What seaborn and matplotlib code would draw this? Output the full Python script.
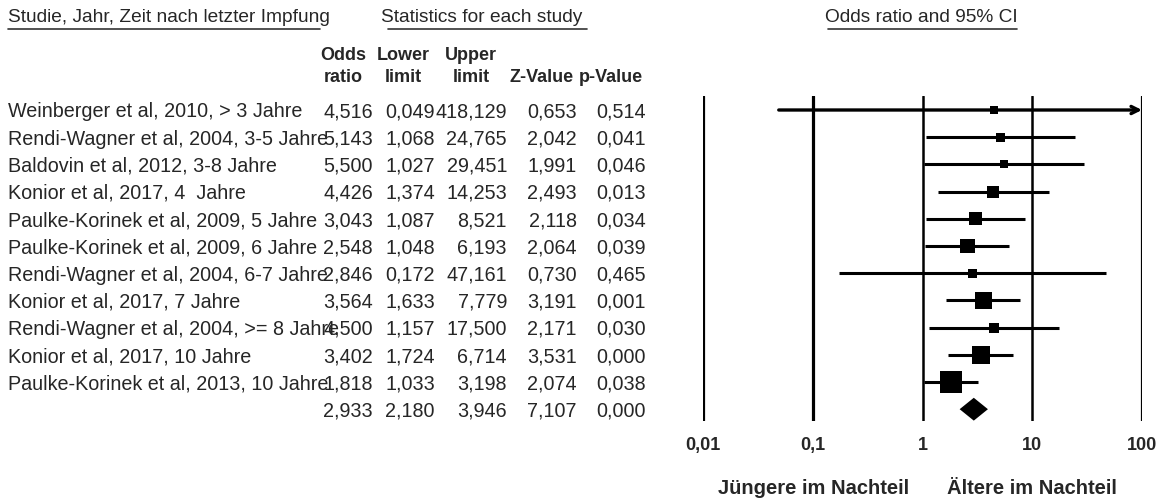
import matplotlib
matplotlib.use("Agg")
import matplotlib.pyplot as plt
import matplotlib.transforms as mtransforms
from matplotlib.lines import Line2D
import seaborn as sns
import pandas as pd

# ---------------- data ----------------
studies = [
    "Weinberger et al, 2010, > 3 Jahre",
    "Rendi-Wagner et al, 2004, 3-5 Jahre",
    "Baldovin et al, 2012, 3-8 Jahre",
    "Konior et al, 2017, 4  Jahre",
    "Paulke-Korinek et al, 2009, 5 Jahre",
    "Paulke-Korinek et al, 2009, 6 Jahre",
    "Rendi-Wagner et al, 2004, 6-7 Jahre",
    "Konior et al, 2017, 7 Jahre",
    "Rendi-Wagner et al, 2004, >= 8 Jahre",
    "Konior et al, 2017, 10 Jahre",
    "Paulke-Korinek et al, 2013, 10 Jahre",
]
odds_ratio = [4.516, 5.143, 5.500, 4.426, 3.043, 2.548, 2.846, 3.564, 4.500, 3.402, 1.818]
lower = [0.049, 1.068, 1.027, 1.374, 1.087, 1.048, 0.172, 1.633, 1.157, 1.724, 1.033]
upper = [418.129, 24.765, 29.451, 14.253, 8.521, 6.193, 47.161, 7.779, 17.500, 6.714, 3.198]
z_value = [0.653, 2.042, 1.991, 2.493, 2.118, 2.064, 0.730, 3.191, 2.171, 3.531, 2.074]
p_value = [0.514, 0.041, 0.046, 0.013, 0.034, 0.039, 0.465, 0.001, 0.030, 0.000, 0.038]
weights = [3.2, 4.0, 3.2, 7.1, 8.3, 11.1, 4.0, 14.3, 4.9, 16.0, 23.9]

summary_or = 2.933
summary_lower = 2.180
summary_upper = 3.946
summary_z = 7.107
summary_p = 0.000

tick_values = [0.01, 0.1, 1, 10, 100]
tick_labels = ["0,01", "0,1", "1", "10", "100"]

# ---------------- style ----------------
sns.set_theme(style="white")
plt.rcParams["font.family"] = ["Liberation Sans", "DejaVu Sans"]

W, H = 1161, 502
fig = plt.figure(figsize=(W / 100, H / 100), dpi=100)


def fx(px):
    return px / W


def fy(py):
    return 1 - py / H


# forest axes
ax_left, ax_right, ax_top, ax_bottom = 703, 1142, 97, 422
ax = fig.add_axes([fx(ax_left), fy(ax_bottom), (ax_right - ax_left) / W, (ax_bottom - ax_top) / H])
ax.set_xscale("log")
ax.set_xlim(0.01, 100)
row_h = 27.2
ax.set_ylim((ax_bottom - 111) / row_h, (ax_top - 111) / row_h)
for s in ax.spines.values():
    s.set_visible(False)
ax.set_facecolor("none")
ax.grid(False)

for v in tick_values:
    lw = 1.8 if v in (1, 10) else 2.3
    ax.axvline(v, color="black", lw=lw, zorder=1)

ax.set_xticks(tick_values)
ax.set_xticklabels(tick_labels, fontsize=13, fontweight="bold")
ax.xaxis.set_minor_locator(matplotlib.ticker.NullLocator())
ax.tick_params(axis="x", length=0, pad=10.5)
ax.set_yticks([])

rows = list(range(len(studies)))
xmax = 100
for r, lo, hi in zip(rows, lower, upper):
    if hi > xmax:
        ax.annotate("", xy=(xmax, r), xytext=(lo, r),
                    arrowprops=dict(arrowstyle="->", lw=2.4, color="black",
                                    mutation_scale=13, shrinkA=0, shrinkB=0),
                    zorder=2)
    else:
        ax.hlines(r, lo, hi, color="black", lw=2.2, zorder=2)

df = pd.DataFrame({"or": odds_ratio, "row": rows, "w": weights})
sns.scatterplot(data=df, x="or", y="row", size="w", sizes=(0, 262), size_norm=(0, 25),
                marker="s", color="black", linewidth=0, legend=False, ax=ax, zorder=3)
ax.set_xlabel("")
ax.set_ylabel("")

sr = len(studies)
hh = 0.42
ax.fill([summary_lower, summary_or, summary_upper, summary_or],
        [sr, sr - hh, sr, sr + hh], color="black", lw=0, zorder=3)

# ---------------- table text ----------------
tr = mtransforms.blended_transform_factory(fig.transFigure, ax.transData)
fs = 14.2


def fmt(v):
    return f"{v:.3f}".replace(".", ",")


col_right = [373, 435, 507, 577, 646]
for r, name in enumerate(studies):
    fig.text(fx(8), r + 0.03, name, transform=tr, ha="left", va="center", fontsize=fs)
    vals = [odds_ratio[r], lower[r], upper[r], z_value[r], p_value[r]]
    for xr, v in zip(col_right, vals):
        fig.text(fx(xr), r + 0.03, fmt(v), transform=tr, ha="right", va="center", fontsize=fs)

for xr, v in zip(col_right, [summary_or, summary_lower, summary_upper, summary_z, summary_p]):
    fig.text(fx(xr), sr + 0.03, fmt(v), transform=tr, ha="right", va="center", fontsize=fs)

# headers
hdr_fs = 13.8
fig.text(fx(8), fy(17), "Studie, Jahr, Zeit nach letzter Impfung", ha="left", va="center", fontsize=hdr_fs)
fig.text(fx(381), fy(17), "Statistics for each study", ha="left", va="center", fontsize=hdr_fs)
fig.text(fx(825), fy(17), "Odds ratio and 95% CI", ha="left", va="center", fontsize=hdr_fs)
for x0, x1 in [(8, 320), (388, 587), (828, 1017)]:
    fig.add_artist(Line2D([fx(x0), fx(x1)], [fy(30), fy(30)], color="#333333", lw=1.2,
                          transform=fig.transFigure))

bfs = 13
col_hdr = [("Odds", "ratio", 343), ("Lower", "limit", 403), ("Upper", "limit", 471)]
for t1, t2, xc in col_hdr:
    fig.text(fx(xc), fy(55), t1, ha="center", va="center", fontsize=bfs, fontweight="bold")
    fig.text(fx(xc), fy(77), t2, ha="center", va="center", fontsize=bfs, fontweight="bold")
fig.text(fx(542), fy(77), "Z-Value", ha="center", va="center", fontsize=bfs, fontweight="bold")
fig.text(fx(611), fy(77), "p-Value", ha="center", va="center", fontsize=bfs, fontweight="bold")

fig.text(fx(814), fy(489), "Jüngere im Nachteil", ha="center", va="center", fontsize=14.5, fontweight="bold")
fig.text(fx(1032), fy(489), "Ältere im Nachteil", ha="center", va="center", fontsize=14.5, fontweight="bold")

fig.savefig("out.png", dpi=100)
